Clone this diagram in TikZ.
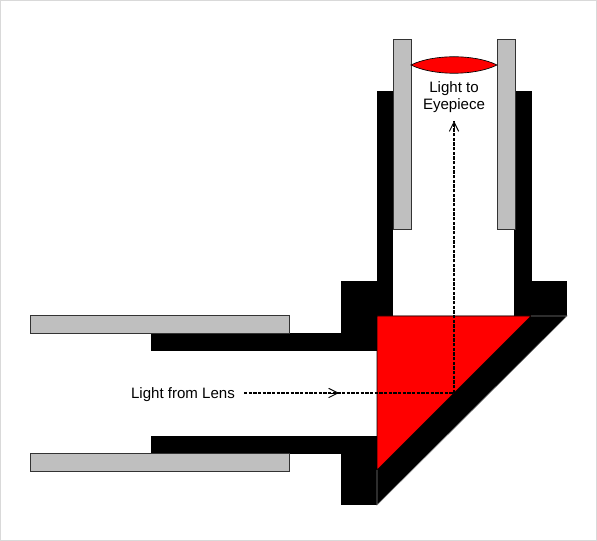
\documentclass[tikz,border=0pt]{standalone}
\usepackage{fontspec}
\setmainfont{Liberation Sans}
\usetikzlibrary{arrows.meta}

\tikzset{
    tube/.style={fill=gray!50, draw=black!80, line width=0.6pt},
    housing/.style={fill=black},
    lightray/.style={draw=black, dash pattern=on 2.4pt off 1.1pt, line width=0.85pt},
    raytip/.style={-{Straight Barb[length=7pt, width=7pt]}, line width=0.7pt},
    caption/.style={font=\fontsize{11.3pt}{13.2pt}\selectfont, align=center, inner sep=0pt}
}

\begin{document}
\begin{tikzpicture}[x=0.75pt, y=-0.75pt]
    % Units: 1 = one pixel of the reference, y runs downwards
    \useasboundingbox (0,0) rectangle (597,541);
    \draw[gray!30, line width=0.75pt] (0.5,0.5) rectangle (596.5,540.5);

    % Black housing
    \fill[housing] (151,333) rectangle (377,351);
    \fill[housing] (151,436) rectangle (377,454);
    \fill[housing] (341,281) rectangle (377,351);
    \fill[housing] (377,91) rectangle (393,316);
    \fill[housing] (514,91) rectangle (532,316);
    \fill[housing] (514,281) rectangle (567,316);
    \fill[housing] (341,436) rectangle (377,505);
    \fill[housing] (377,316) -- (567,316) -- (377,505) -- cycle;

    % Prism
    \filldraw[fill=red, draw=black, line width=0.5pt] (377,316) -- (531,316) -- (377,470) -- cycle;

    % Edges of the mirror backing
    \draw[gray, line width=0.4pt] (531,316) -- (567,316) -- (377,505) -- (377,470);

    % Gray tubes
    \draw[tube] (30,315) rectangle (289,333);
    \draw[tube] (30,453) rectangle (289,471);
    \draw[tube] (393,39) rectangle (411,229);
    \draw[tube] (497,39) rectangle (515,229);

    % Eyepiece lens
    \filldraw[fill=red, draw=black, line width=0.5pt] (411,65) .. controls (433,54) and (475,54) .. (497,65) .. controls (475,76) and (433,76) .. cycle;

    % Labels
    \node[caption] (toeye) at (454,97) {Light to\\Eyepiece};
    \node[caption] (fromlens) at (183,394.5) {Light from Lens};

    % Light path
    \coordinate (start) at (244,393);
    \coordinate (midray) at (339,393);
    \coordinate (bounce) at (454,393);
    \coordinate (finish) at (454,121);
    \draw[lightray] (start) -- (bounce) -- (finish);
    \draw[raytip] (328,393) -- (midray);
    \draw[raytip] (454,132) -- (finish);
\end{tikzpicture}
\end{document}
